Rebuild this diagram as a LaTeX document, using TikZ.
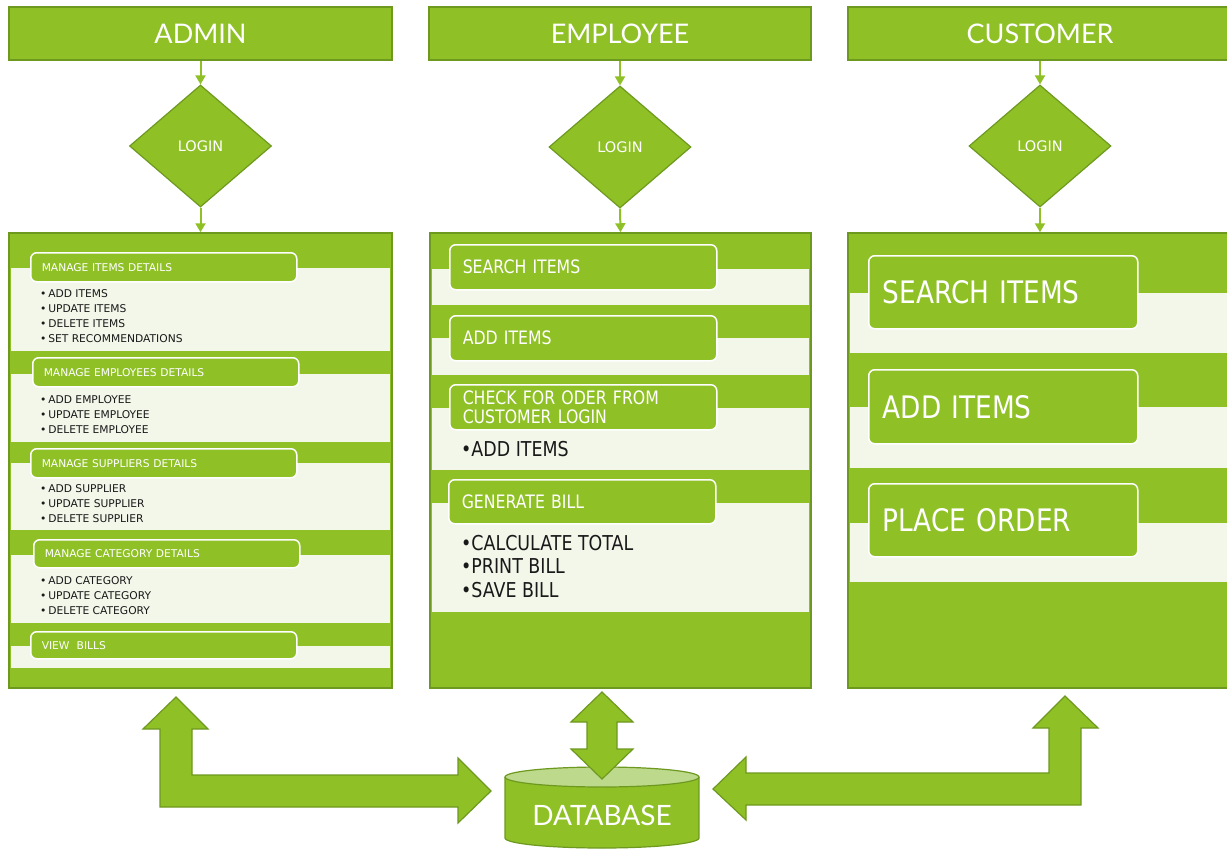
\documentclass[tikz,border=0pt]{standalone}
\usepackage{fontspec}
\setmainfont{DejaVu Sans}
\newfontfamily\hdrfont{Lato}
\newfontfamily\cfont{DejaVu Sans}[FakeStretch=0.85]
\usetikzlibrary{shapes.geometric,arrows.meta}
\definecolor{grn}{HTML}{8FC127}
\definecolor{grnd}{HTML}{6E991F}
\definecolor{bandc}{HTML}{F3F7EA}
\definecolor{dbtop}{HTML}{BDD98B}
\newcommand\myfs[2]{\fontsize{#1}{#2}\selectfont}
\begin{document}
\begin{tikzpicture}[x=1pt,y=-1pt,
  hdr/.style={rectangle, fill=grn, draw=grnd, line width=1.5pt, text=white, font=\hdrfont\myfs{27}{32}, inner sep=0pt},
  login/.style={diamond, fill=grn, draw=grnd, line width=1.2pt, minimum width=142pt, minimum height=122pt, inner sep=0pt, text=white, font=\myfs{14.5}{16}},
  panel/.style={rectangle, fill=grn, draw=grnd, line width=1.5pt, inner sep=0pt},
  band/.style={fill=bandc},
  tab/.style={rectangle, rounded corners=6pt, fill=grn, draw=white, line width=1.5pt, text=white, inner ysep=0pt, align=left, anchor=north west},
  atab/.style={tab, inner xsep=11pt, text width=244pt, minimum height=29pt, font=\myfs{10.7}{12}},
  etab/.style={tab, inner xsep=13pt, text width=241pt, minimum height=45pt, font=\cfont\myfs{18.5}{19.5}},
  ctab/.style={tab, inner xsep=14pt, text width=241pt, minimum height=73pt, font=\cfont\myfs{31}{32}},
  abul/.style={anchor=base west, align=left, inner sep=0pt, text=black!90, font=\myfs{10.7}{15}},
  ebul/.style={anchor=base west, align=left, inner sep=0pt, text=black!90, font=\cfont\myfs{20.5}{23.5}},
  flow/.style={draw=grn, line width=2pt, -{Triangle[width=10pt,length=9pt]}},
  big/.style={fill=grn, draw=grnd, line width=1.2pt, line join=miter},
]
\useasboundingbox (0,0) rectangle (1227,849);
\fill[white] (0,0) rectangle (1227,849);

% headers
\node[hdr, minimum width=383pt, minimum height=53pt] (hA) at (200.5,33.5) {ADMIN};
\node[hdr, minimum width=382pt, minimum height=53pt] (hE) at (620,33.5) {EMPLOYEE};
\node[hdr, minimum width=384pt, minimum height=53pt] (hC) at (1040,33.5) {CUSTOMER};

% login diamonds
\node[login] (dA) at (200.5,146) {LOGIN};
\node[login] (dE) at (620,147) {LOGIN};
\node[login] (dC) at (1040,146) {LOGIN};

% panels
\node[panel, minimum width=383pt, minimum height=455pt] (pA) at (200.5,460.5) {};
\node[panel, minimum width=381pt, minimum height=455pt] (pE) at (620.5,460.5) {};
\node[panel, minimum width=384pt, minimum height=455pt] (pC) at (1040,460.5) {};

% flow arrows
\draw[flow] (hA.south) -- (dA.north);
\draw[flow] (dA.south) -- (pA.north);
\draw[flow] (hE.south) -- (dE.north);
\draw[flow] (dE.south) -- (pE.north);
\draw[flow] (hC.south) -- (dC.north);
\draw[flow] (dC.south) -- (pC.north);

% admin bands
\fill[band] (11,268) rectangle (390,351);
\fill[band] (11,374) rectangle (390,442);
\fill[band] (11,463) rectangle (390,530);
\fill[band] (11,555) rectangle (390,623);
\fill[band] (11,646) rectangle (390,668);
% admin tabs
\node[atab] (a1) at (30,252) {MANAGE ITEMS DETAILS};
\node[atab] (a2) at (32,357) {MANAGE EMPLOYEES DETAILS};
\node[atab] (a3) at (30,448) {MANAGE SUPPLIERS DETAILS};
\node[atab, minimum height=28pt] (a4) at (33,539) {MANAGE CATEGORY DETAILS};
\node[atab, minimum height=27pt] (a5) at (30,631) {VIEW\ \ BILLS};
% admin bullets (anchor = baseline of last line)
\node[abul] (b1) at (40,342) {•\,ADD ITEMS\\•\,UPDATE ITEMS\\•\,DELETE ITEMS\\•\,SET RECOMMENDATIONS};
\node[abul] (b2) at (40,433) {•\,ADD EMPLOYEE\\•\,UPDATE EMPLOYEE\\•\,DELETE EMPLOYEE};
\node[abul] (b3) at (40,522) {•\,ADD SUPPLIER\\•\,UPDATE SUPPLIER\\•\,DELETE SUPPLIER};
\node[abul] (b4) at (40,614) {•\,ADD CATEGORY\\•\,UPDATE CATEGORY\\•\,DELETE CATEGORY};

% employee bands
\fill[band] (432,269) rectangle (809,305);
\fill[band] (432,338) rectangle (809,375);
\fill[band] (432,408) rectangle (809,470);
\fill[band] (432,503) rectangle (809,612);
% employee tabs
\node[etab] (e1) at (449,244) {SEARCH ITEMS};
\node[etab] (e2) at (449,315) {ADD ITEMS};
\node[etab] (e3) at (449,384) {CHECK FOR ODER FROM\\CUSTOMER LOGIN};
\node[etab, minimum height=44pt] (e4) at (448,479) {GENERATE BILL};
% employee bullets
\node[ebul] (f1) at (461,456) {•ADD ITEMS};
\node[ebul] (f2) at (461,597) {•CALCULATE TOTAL\\•PRINT BILL\\•SAVE BILL};

% customer bands
\fill[band] (850,293) rectangle (1228,353);
\fill[band] (850,407) rectangle (1228,468);
\fill[band] (850,523) rectangle (1228,582);
% customer tabs
\node[ctab] (c1) at (868,255) {SEARCH ITEMS};
\node[ctab, minimum height=74pt] (c2) at (868,369) {ADD ITEMS};
\node[ctab] (c3) at (868,483) {PLACE ORDER};

% database cylinder
\fill[grn] (505,777) rectangle (699,838);
\fill[grn] (602,838) ellipse [x radius=97pt, y radius=10pt];
\draw[grnd, line width=1.2pt] (505,777) -- (505,838) arc[start angle=180, end angle=360, x radius=97pt, y radius=10pt] -- (699,777);
\draw[fill=dbtop, draw=grnd, line width=1.2pt] (602,777) ellipse [x radius=97pt, y radius=10pt];
\node[text=white, font=\hdrfont\myfs{28}{32}] (db) at (602,815) {DATABASE};

% big arrows
\draw[big] (176,697) -- (208,729) -- (192,729) -- (192,775) -- (458,775) -- (458,758) -- (491,791) -- (458,823) -- (458,807) -- (160,807) -- (160,729) -- (143,729) -- cycle;
\draw[big] (602,692) -- (633,722) -- (617,722) -- (617,749) -- (633,749) -- (602,779) -- (571,749) -- (587,749) -- (587,722) -- (571,722) -- cycle;
\draw[big] (1065,696) -- (1098,728) -- (1081,728) -- (1081,805) -- (746,805) -- (746,820) -- (713,789) -- (746,757) -- (746,773) -- (1049,773) -- (1049,728) -- (1033,728) -- cycle;
\end{tikzpicture}
\end{document}
